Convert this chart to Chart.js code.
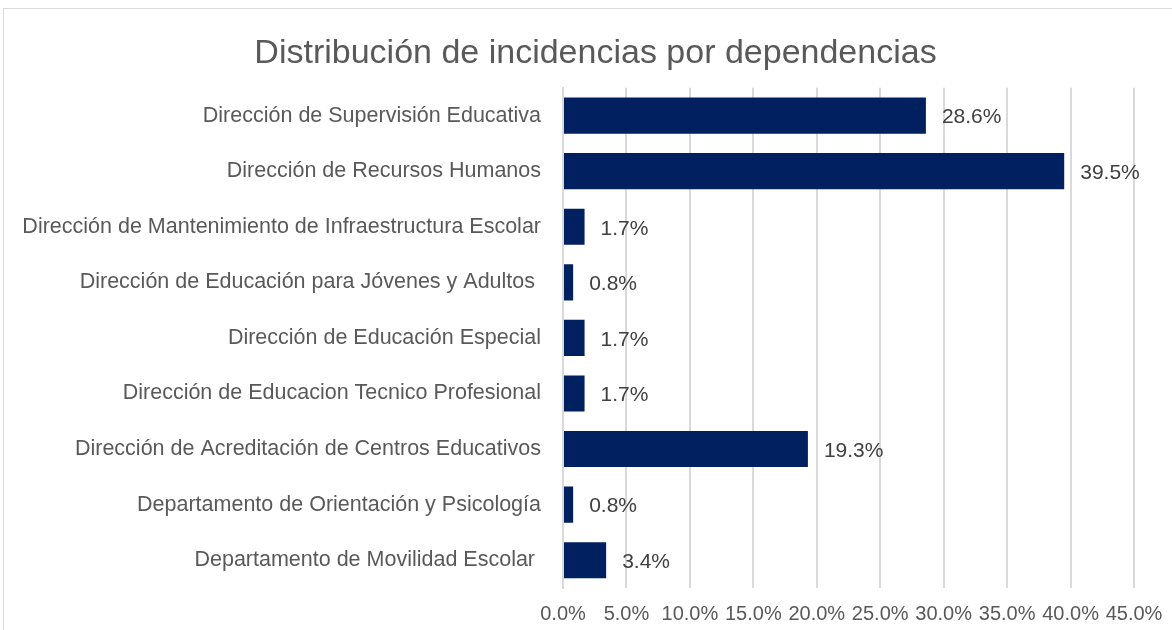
<!DOCTYPE html>
<html lang="es">
<head>
    <meta charset="UTF-8">
    <title>Distribución de incidencias por dependencias</title>
    <script src="https://cdn.jsdelivr.net/npm/chart.js"></script>
    <style>
        html, body { margin: 0; padding: 0; background: #fff; overflow: hidden; }
        #chartBox {
            position: absolute; left: 3px; top: 8px;
            width: 1185px; height: 640px;
            border: 1px solid #d9d9d9; box-sizing: border-box;
        }
    </style>
</head>
<body>
    <div id="chartBox">
        <canvas id="myChart"></canvas>
    </div>

    <script>
        const dependencias = [
            'Dirección de Supervisión Educativa',
            'Dirección de Recursos Humanos',
            'Dirección de Mantenimiento de Infraestructura Escolar',
            'Dirección de Educación para Jóvenes y Adultos ',
            'Dirección de Educación Especial',
            'Dirección de Educacion Tecnico Profesional',
            'Dirección de Acreditación de Centros Educativos',
            'Departamento de Orientación y Psicología',
            'Departamento de Movilidad Escolar '
        ];
        const porcentajes = [28.6, 39.5, 1.7, 0.8, 1.7, 1.7, 19.3, 0.8, 3.4];
        const ticksX = [0, 5, 10, 15, 20, 25, 30, 35, 40, 45];

        const fuente = '"Liberation Sans", Arial, sans-serif';

        // étiquettes de valeur à droite des barres
        const etiquettes = {
            id: 'etiquettes',
            afterDatasetsDraw(chart) {
                const ctx = chart.ctx;
                const meta = chart.getDatasetMeta(0);
                ctx.save();
                ctx.font = '21px ' + fuente;
                ctx.fillStyle = '#404040';
                ctx.textBaseline = 'middle';
                ctx.textAlign = 'left';
                meta.data.forEach((bar, i) => {
                    ctx.fillText(porcentajes[i].toFixed(1) + '%', bar.x + 16, bar.y + 2);
                });
                ctx.restore();
            }
        };

        const ctx = document.getElementById('myChart').getContext('2d');
        new Chart(ctx, {
            type: 'bar',
            data: {
                labels: dependencias,
                datasets: [{
                    data: porcentajes,
                    backgroundColor: '#002060',
                    borderWidth: 0,
                    categoryPercentage: 0.65,
                    barPercentage: 1.0
                }]
            },
            options: {
                indexAxis: 'y',
                responsive: true,
                maintainAspectRatio: false,
                animation: false,
                layout: { padding: { top: 14, right: 0, bottom: 0, left: 0 } },
                plugins: {
                    legend: { display: false },
                    tooltip: { enabled: false },
                    title: {
                        display: true,
                        text: 'Distribución de incidencias por dependencias',
                        color: '#595959',
                        font: { family: fuente, size: 34, weight: 'normal' },
                        padding: { top: 10, bottom: 14 }
                    }
                },
                scales: {
                    x: {
                        min: 0,
                        max: 45,
                        afterBuildTicks(scale) {
                            scale.ticks = ticksX.map(v => ({ value: v }));
                        },
                        afterFit(scale) {
                            scale.height = 59;
                            scale.paddingRight = 53;
                        },
                        grid: { color: '#d9d9d9', lineWidth: 2, drawTicks: false },
                        border: { display: false },
                        ticks: {
                            color: '#595959',
                            padding: 14,
                            font: { family: fuente, size: 20 },
                            callback: v => v.toFixed(1) + '%'
                        }
                    },
                    y: {
                        afterFit(scale) { scale.width = 559; },
                        grid: { display: false },
                        border: { display: true, color: '#d9d9d9', width: 2 },
                        ticks: {
                            color: '#595959',
                            padding: 14,
                            font: { family: fuente, size: 21.5 }
                        }
                    }
                }
            },
            plugins: [etiquettes]
        });
    </script>
</body>
</html>
